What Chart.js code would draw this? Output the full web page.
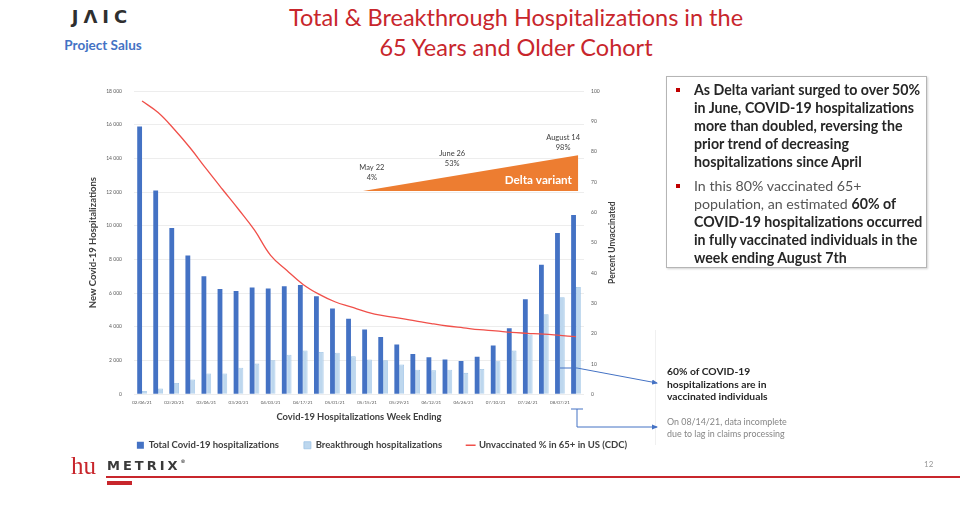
<!DOCTYPE html>
<html>
<head>
<meta charset="utf-8">
<script src="https://cdn.jsdelivr.net/npm/chart.js@4.4.1/dist/chart.umd.min.js"></script>
<style>
  body { margin: 0; width: 960px; height: 515px; background: #fff; position: relative; overflow: hidden; font-family: Lato, sans-serif; }
  .abs { position: absolute; }
  #title { left: 236px; top: 2px; width: 560px; text-align: center; font-size: 23.5px; line-height: 30px; color: #c8262c; }
  #jaic { left: 68px; top: 6px; width: 68px; text-align: center; font-family: "DejaVu Sans", sans-serif; font-weight: bold; font-size: 18px; letter-spacing: 5px; color: #2f2f2f; }
  #salus { left: 52px; top: 37px; width: 102px; text-align: center; font-size: 13.5px; font-weight: bold; color: #4472c4; }
  #wrap { left: 80px; top: 80px; width: 604px; height: 380px; }
  #box { left: 666px; top: 76px; width: 259px; height: 190px; border: 1px solid #b5b5b5; box-shadow: 1px 1px 2px rgba(0,0,0,0.18); }
  .para { position: absolute; left: 27px; font-size: 14.2px; line-height: 18px; font-weight: bold; color: #262626; white-space: nowrap; }
  .para::before { content: ""; position: absolute; left: -18px; top: 7px; width: 4px; height: 4px; background: #c00000; }
  .thin { font-weight: normal; color: #555; }
  #note1 { left: 667px; top: 365px; font-size: 10.3px; line-height: 12.5px; font-weight: bold; color: #262626; white-space: nowrap; }
  #note2 { left: 667px; top: 416px; font-size: 8.9px; line-height: 11.5px; color: #858585; white-space: nowrap; }
  #hu { left: 71px; top: 452px; font-family: "Liberation Serif", serif; font-size: 25px; color: #c8262c; }
  #metrix { left: 107px; top: 458px; font-family: "DejaVu Sans", sans-serif; font-weight: bold; font-size: 13px; letter-spacing: 3px; color: #3a3a3a; }
  #redline { left: 106px; top: 476px; width: 854px; height: 1.5px; background: #c8262c; }
  #redtab { left: 107px; top: 481px; width: 25px; height: 4px; background: #c8262c; }
  #page { left: 924px; top: 459px; font-size: 8px; color: #999; }
  #sep { left: 655px; top: 330px; width: 1px; height: 115px; background: #f0f0f0; }
</style>
</head>
<body>
<div id="title" class="abs">Total &amp; Breakthrough Hospitalizations in the<br>65 Years and Older Cohort</div>
<div id="jaic" class="abs">JΛIC</div>
<div id="salus" class="abs">Project Salus</div>
<div id="sep" class="abs"></div>
<div id="wrap" class="abs"><canvas id="chart" width="604" height="380"></canvas></div>
<div id="box" class="abs">
  <div class="para" style="top:4px">As Delta variant surged to over 50%<br>in June, COVID-19 hospitalizations<br>more than doubled, reversing the<br>prior trend of decreasing<br>hospitalizations since April</div>
  <div class="para" style="top:100px"><span class="thin">In this 80% vaccinated 65+<br>population, an estimated </span>60% of<br>COVID-19 hospitalizations occurred<br>in fully vaccinated individuals in the<br>week ending August 7th</div>
</div>
<div id="note1" class="abs">60% of COVID-19<br>hospitalizations are in<br>vaccinated individuals</div>
<div id="note2" class="abs">On 08/14/21, data incomplete<br>due to lag in claims processing</div>
<svg class="abs" style="left:0;top:0" width="960" height="515">
  <defs>
    <marker id="ah" markerWidth="6" markerHeight="6" refX="5" refY="3" orient="auto" markerUnits="userSpaceOnUse">
      <path d="M0,0.5 L6,3 L0,5.5 z" fill="#4472c4"/>
    </marker>
  </defs>
  <polyline points="560,368 577,368 657,383" fill="none" stroke="#4472c4" stroke-width="1" marker-end="url(#ah)"/>
  <polyline points="571,409 583,409" fill="none" stroke="#4472c4" stroke-width="1"/>
  <polyline points="577,409 577,427 657,427" fill="none" stroke="#4472c4" stroke-width="1" marker-end="url(#ah)"/>
</svg>
<div id="hu" class="abs">hu</div>
<div id="metrix" class="abs">METRIX<span style="font-size:5px;vertical-align:top">®</span></div>
<div id="redline" class="abs"></div>
<div id="redtab" class="abs"></div>
<div id="page" class="abs">12</div>

<script>
const weeks = ['02/06/21', '02/13/21', '02/20/21', '02/27/21', '03/06/21', '03/13/21', '03/20/21',
  '03/27/21', '04/03/21', '04/10/21', '04/17/21', '04/24/21', '05/01/21', '05/08/21', '05/15/21',
  '05/22/21', '05/29/21', '06/05/21', '06/12/21', '06/19/21', '06/26/21', '07/03/21', '07/10/21',
  '07/17/21', '07/24/21', '07/31/21', '08/07/21', '08/14/21'];

const totalHosp = [15900, 12100, 9870, 8230, 7000, 6250, 6130, 6330, 6270, 6410, 6490, 5810, 5090, 4480,
  3840, 3400, 2950, 2390, 2200, 2060, 1980, 2220, 2890, 3920, 5640, 7690, 9570, 10640];

const breakthrough = [200, 340, 670, 870, 1230, 1230, 1580, 1820, 2020, 2350, 2600, 2510, 2470, 2250,
  2060, 2020, 1760, 1460, 1420, 1460, 1270, 1500, 1960, 2590, 3540, 4750, 5760, 6370];

const unvaccinated = [96.7, 92.9, 87.4, 81.2, 74.3, 67.6, 61.0, 54.1, 45.8, 40.9, 36.3, 33.0, 30.5, 28.8,
  27.1, 25.9, 25.1, 24.2, 23.3, 22.5, 21.9, 21.3, 20.9, 20.4, 20.1, 19.8, 19.4, 19.0];

// delta variant wedge, in category index (x) and percent (right axis) units
const deltaWedge = { from: 13.75, to: 27.13, base: 67, top: 78.8 };
const deltaNotes = [
  { at: 14.3, lines: ['May 22', '4%'], level: 74.9 },
  { at: 19.3, lines: ['June 26', '53%'], level: 79.5 },
  { at: 26.2, lines: ['August 14', '98%'], level: 84.7 }
];

const textColor = '#404040';
const thousands = (v) => String(v).replace(/\B(?=(\d{3})+(?!\d))/g, ' ');

// fixed axis width, and no extra room reserved above/below for tick labels
const fitSide = (w) => (s) => { s.width = w; s.paddingTop = 0; s.paddingBottom = 0; };

const deltaPlugin = {
  id: 'delta',
  afterDatasetsDraw(chart) {
    const { ctx, chartArea } = chart;
    const x = chart.scales.x, y1 = chart.scales.y1;
    const x0 = x.getPixelForValue(0);
    const step = x.getPixelForValue(1) - x0;
    const px = (i) => x0 + i * step;

    ctx.save();
    ctx.fillStyle = '#ed7d31';
    ctx.beginPath();
    ctx.moveTo(px(deltaWedge.from), y1.getPixelForValue(deltaWedge.base));
    ctx.lineTo(px(deltaWedge.to), y1.getPixelForValue(deltaWedge.top));
    ctx.lineTo(px(deltaWedge.to), y1.getPixelForValue(deltaWedge.base));
    ctx.closePath();
    ctx.fill();

    ctx.fillStyle = '#fff';
    ctx.font = 'bold 11.7px Lato';
    ctx.textAlign = 'right';
    ctx.textBaseline = 'middle';
    ctx.fillText('Delta variant', px(26.75), y1.getPixelForValue(70.6));

    ctx.fillStyle = textColor;
    ctx.font = '7.5px Lato';
    ctx.textAlign = 'center';
    deltaNotes.forEach((n) => {
      n.lines.forEach((t, k) => {
        ctx.fillText(t, px(n.at), y1.getPixelForValue(n.level) + k * 10);
      });
    });

    // axis titles: x below the tick labels, right one reading bottom to top
    ctx.font = 'bold 9.4px Lato';
    ctx.fillText('Covid-19 Hospitalizations Week Ending', (chartArea.left + chartArea.right) / 2, chartArea.bottom + 22.7);
    ctx.translate(chartArea.right + 28, (chartArea.top + chartArea.bottom) / 2);
    ctx.rotate(-Math.PI / 2);
    ctx.font = 'bold 8.5px Lato';
    ctx.fillText('Percent Unvaccinated', 0, 0);
    ctx.restore();
  }
};

Chart.defaults.font.family = 'Lato';

new Chart(document.getElementById('chart'), {
  type: 'bar',
  data: {
    labels: weeks,
    datasets: [
      {
        type: 'bar',
        label: 'Total Covid-19 hospitalizations',
        data: totalHosp,
        backgroundColor: '#4472c4',
        pointStyle: 'rect',
        yAxisID: 'y',
        order: 1
      },
      {
        type: 'bar',
        label: 'Breakthrough hospitalizations',
        data: breakthrough,
        backgroundColor: '#bdd7ee',
        borderColor: '#9dc3e6',
        borderWidth: 0.8,
        pointStyle: 'rect',
        yAxisID: 'y',
        order: 1
      },
      {
        type: 'line',
        label: 'Unvaccinated % in 65+ in US (CDC)',
        data: unvaccinated,
        borderColor: '#f0504a',
        backgroundColor: '#f0504a',
        borderWidth: 1.3,
        pointRadius: 0,
        pointStyle: 'line',
        tension: 0.4,
        yAxisID: 'y1',
        order: 0
      }
    ]
  },
  options: {
    responsive: false,
    animation: false,
    layout: { padding: { top: 11, bottom: 0 } },
    datasets: { bar: { categoryPercentage: 0.6, barPercentage: 1.0 } },
    plugins: {
      tooltip: { enabled: false },
      legend: {
        position: 'bottom',
        labels: {
          usePointStyle: true,
          boxWidth: 7,
          boxHeight: 7,
          padding: 25,
          color: textColor,
          font: { size: 9.5, weight: 'bold' },
          sort: (a, b) => a.datasetIndex - b.datasetIndex
        }
      }
    },
    scales: {
      x: {
        afterFit: (s) => { s.height = 21.25; },
        grid: { display: false, drawTicks: false },
        border: { display: false },
        ticks: {
          autoSkip: false,
          maxRotation: 0,
          padding: 5.5,
          color: '#595959',
          font: { size: 4.5 },
          callback: (v, i) => (i % 2 === 0 ? weeks[i] : '')
        }
      },
      y: {
        position: 'left',
        min: 0,
        max: 18000,
        afterFit: fitSide(54),
        grid: { color: '#e8e8e8', lineWidth: 0.8, drawTicks: false },
        border: { display: false },
        ticks: { stepSize: 2000, padding: 12, color: '#595959', font: { size: 5 }, callback: (v) => thousands(v) },
        title: {
          display: true,
          text: 'New Covid-19 Hospitalizations',
          color: textColor,
          font: { size: 9.5, weight: 'bold' },
          padding: { top: 7.5, bottom: 0 }
        }
      },
      y1: {
        position: 'right',
        min: 0,
        max: 100,
        afterFit: fitSide(100),
        grid: { drawOnChartArea: false, drawTicks: false },
        border: { display: false },
        ticks: { stepSize: 10, padding: 7, color: '#595959', font: { size: 5 } }
      }
    }
  },
  plugins: [deltaPlugin]
});
</script>
</body>
</html>
